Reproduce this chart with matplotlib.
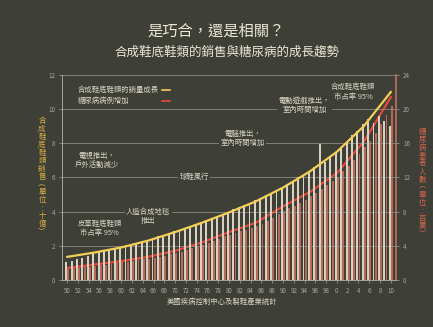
import matplotlib
matplotlib.use("Agg")
import matplotlib.pyplot as plt

plt.rcParams['font.family'] = ['Noto Sans CJK TC', 'DejaVu Sans']

# 資料
years = list(range(1950, 2011))
# 合成鞋底鞋類銷售（十億），每年長條
sales_bars = [1.05, 1.1, 1.2, 1.3, 1.4, 1.6, 1.66, 1.72, 1.78, 1.85,
              1.95, 2.02, 2.1, 2.18, 2.26, 2.35, 2.45, 2.55, 2.65, 2.75,
              2.85, 2.95, 3.06, 3.17, 3.28, 3.4, 3.52, 3.64, 3.76, 3.88,
              4.0, 4.13, 4.26, 4.39, 4.52, 4.65, 4.8, 4.95, 5.1, 5.25,
              5.4, 5.6, 5.8, 6.0, 6.2, 6.4, 6.6, 7.95, 6.9, 7.2,
              7.5, 7.8, 8.1, 8.5, 8.7, 9.1, 9.4, 9.2, 9.6, 9.3,
              9.0]
# 糖尿病病例（百萬），每年長條
diabetes_bars = [1.3, 1.35, 1.4, 1.5, 1.55, 1.65, 1.7, 1.8, 1.85, 1.95,
                 2.05, 2.1, 2.2, 2.3, 2.4, 2.5, 2.6, 2.7, 2.85, 3.0,
                 3.15, 3.3, 3.5, 3.7, 3.9, 4.1, 4.3, 4.6, 4.8, 5.1,
                 5.3, 5.5, 5.7, 5.9, 6.1, 6.3, 6.6, 6.9, 7.3, 7.7,
                 8.1, 8.4, 8.7, 9.0, 9.4, 9.8, 10.2, 10.6, 11.1, 11.6,
                 12.1, 12.7, 13.3, 14.0, 14.7, 15.5, 16.3, 17.2, 18.2, 19.3,
                 20.4]

# 趨勢線（每五年）
line_years = [1950, 1955, 1960, 1965, 1970, 1975, 1980, 1985, 1990, 1995, 2000, 2005, 2010]
sales_line = [1.35, 1.6, 1.9, 2.3, 2.8, 3.35, 3.95, 4.6, 5.4, 6.35, 7.5, 9.0, 11.0]
diabetes_line = [1.4, 1.8, 2.2, 2.7, 3.4, 4.4, 5.6, 6.7, 8.6, 10.3, 12.5, 16.2, 21.4]

tick_years = list(range(1950, 2011, 2))
tick_labels = [str(y % 100) for y in tick_years]

left_label = '合成鞋底鞋類銷售︵單位︰十億︶'
right_label = '糖尿病患者人數︵單位︰百萬︶'

bg = '#3e3f37'
txt = '#d9d5c5'
yellow = '#f2cf55'
red = '#e8483a'

fig = plt.figure(figsize=(4.33, 3.27), dpi=100, facecolor=bg)
ax = fig.add_axes([0.143, 0.144, 0.772, 0.627])
ax.set_facecolor(bg)
ax2 = ax.twinx()

ax.set_xlim(1949, 2011)
ax.set_ylim(0, 12)
ax2.set_ylim(0, 24)

# 格線
for v in range(2, 13, 2):
    ax.axhline(v, color='#8a8a80', lw=0.6, zorder=0)

ax.bar([y - 0.2 for y in years], sales_bars, width=0.35, color='#d8d0c0', zorder=2)
ax2.bar([y + 0.2 for y in years], diabetes_bars, width=0.35, color='#b86a58', zorder=2)
ax.plot(line_years, sales_line, color=yellow, lw=1.6, zorder=5)
ax2.plot(line_years, diabetes_line, color=red, lw=1.6, zorder=5)

ax.set_zorder(ax2.get_zorder() + 1)
ax.patch.set_visible(False)

ax.set_yticks(range(0, 13, 2))
ax2.set_yticks(range(0, 25, 4))
ax.set_xticks(tick_years)
ax.set_xticklabels(tick_labels)
for a in (ax, ax2):
    a.tick_params(colors='#a8a69a', labelsize=4.5, length=2, width=0.5, pad=3)
    for s in a.spines.values():
        s.set_visible(False)
ax.spines['left'].set_visible(True)
ax.spines['left'].set_color('#b8b6aa')
ax.spines['left'].set_linewidth(0.6)
ax.spines['bottom'].set_visible(True)
ax.spines['bottom'].set_color('#b8b6aa')
ax.spines['bottom'].set_linewidth(0.6)
ax2.spines['right'].set_visible(True)
ax2.spines['right'].set_color('#c0705c')
ax2.spines['right'].set_linewidth(1.2)

# 直排座標軸標題
fig.text(0.097, 0.46, '\n'.join(left_label), color='#d6ae45', fontsize=5.4,
         ha='center', va='center', linespacing=0.98)
fig.text(0.975, 0.44, '\n'.join(right_label), color='#d4644f', fontsize=5.4,
         ha='center', va='center', linespacing=0.98)

# 標題
fig.text(0.5, 0.905, '是巧合，還是相關？', color='#ebe7d6', fontsize=11, ha='center', va='center')
fig.text(0.525, 0.84, '合成鞋底鞋類的銷售與糖尿病的成長趨勢', color='#ebe7d6', fontsize=9, ha='center', va='center')

# 圖例
ax.text(1952, 11.1, '合成鞋底鞋類的銷量成長', color=txt, fontsize=5.3, va='center')
ax.text(1952, 10.5, '糖尿病病例增加', color=txt, fontsize=5.3, va='center')
ax.plot([1967.5, 1969], [11.1, 11.1], color=yellow, lw=1.2)
ax.plot([1967.5, 1969], [10.5, 10.5], color=red, lw=1.2)

box = dict(facecolor=bg, edgecolor='none', pad=1)
notes = [
    (1955.5, 7.0, '電視推出，\n戶外活動減少'),
    (1956, 3.0, '皮革鞋底鞋類\n市占率 95%'),
    (1965, 3.7, '人造合成地毯\n推出'),
    (1973.5, 6.0, '球鞋風行'),
    (1982.5, 8.3, '電腦推出，\n室內時間增加'),
    (1994, 10.2, '電動遊戲推出，\n室內時間增加'),
    (2003, 11.0, '合成鞋底鞋類\n市占率 95%'),
]
for x, y, s in notes:
    ax.text(x, y, s, color=txt, fontsize=5.3, ha='center', va='center',
            linespacing=1.2, bbox=box, zorder=6)

fig.text(0.513, 0.077, '美國疾病控制中心及製鞋產業統計', color=txt, fontsize=5.3, ha='center', va='center')

fig.savefig('out.png', dpi=100, facecolor=bg)
